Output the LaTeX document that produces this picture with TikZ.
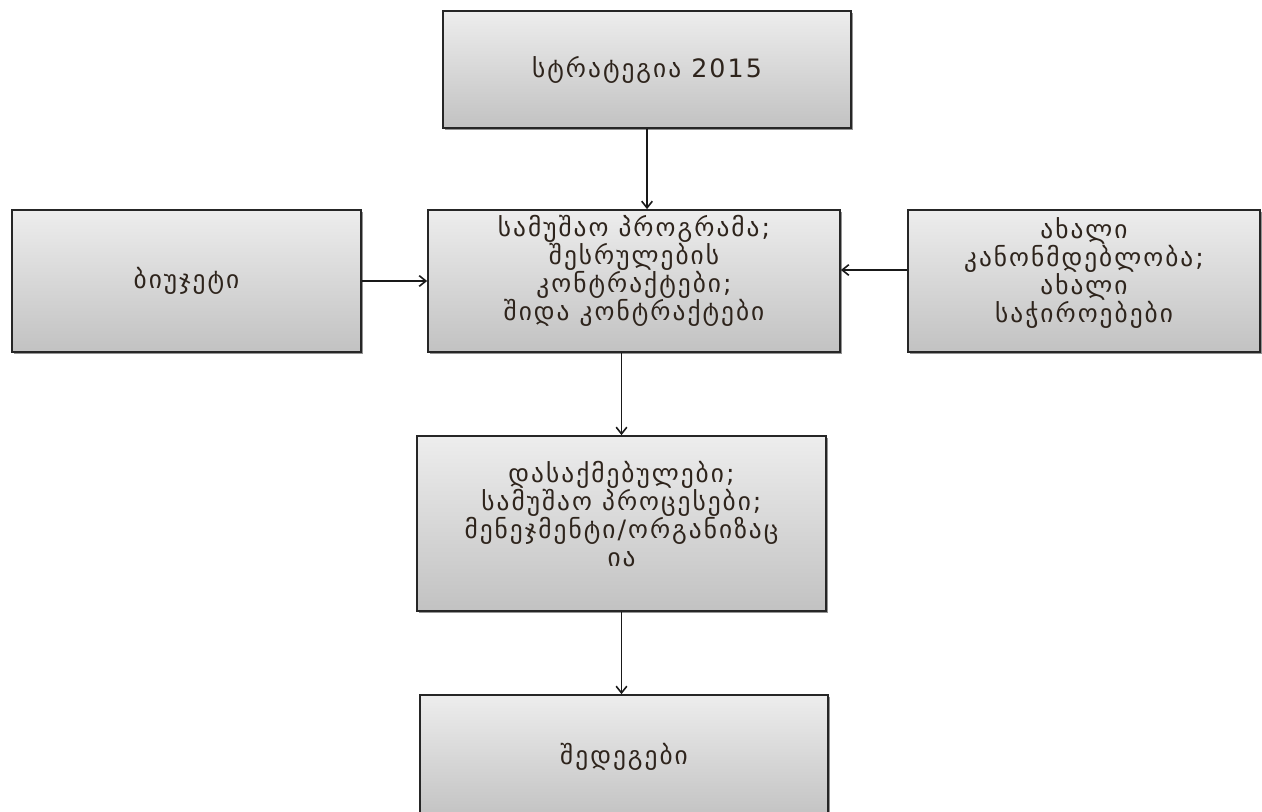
\documentclass[tikz,border=0pt]{standalone}
\usepackage{fontspec}
\newfontfamily\geofont[LetterSpace=8]{DejaVu Sans}
\usetikzlibrary{arrows.meta,shadows,calc}
\def\pxu{0.75pt}
\definecolor{txtcol}{HTML}{2E241C}
\definecolor{boxtop}{HTML}{EDEDED}
\definecolor{boxbot}{HTML}{C2C2C2}
\tikzset{
  geotext/.style={font=\geofont\fontsize{19}{21}\selectfont, text=txtcol, align=center},
  boxnode/.style={draw=black!85, line width=1.3pt, inner sep=0pt, align=center,
    top color=boxtop, bottom color=boxbot, geotext,
    drop shadow={shadow xshift=1.2pt, shadow yshift=-1.2pt, opacity=0.6, fill=black!70}},
  conn/.style={line width=1.4pt, draw=black!90, -{Straight Barb[length=5pt,width=8pt,line width=1.2pt]}}
}
\begin{document}
\begin{tikzpicture}[x=0.75pt, y=-0.75pt]
\useasboundingbox (0,0) rectangle (1262,812);
\clip (0,0) rectangle (1262,812);
\node[boxnode, minimum width=408*\pxu, minimum height=117*\pxu] (top) at (647,69.5) {სტრატეგია 2015};
\node[boxnode, minimum width=349*\pxu, minimum height=142*\pxu] (left) at (186.5,281) {ბიუჯეტი};
\node[boxnode, minimum width=412*\pxu, minimum height=142*\pxu] (mid) at (634,281) {};
\node[geotext] (midtxt) at (634,271) {სამუშაო პროგრამა;\\შესრულების\\კონტრაქტები;\\შიდა კონტრაქტები};
\node[boxnode, minimum width=352*\pxu, minimum height=142*\pxu] (right) at (1084,281) {};
\node[geotext] (righttxt) at (1084,273) {ახალი\\კანონმდებლობა;\\ახალი\\საჭიროებები};
\node[boxnode, minimum width=409*\pxu, minimum height=175*\pxu] (work) at (621.5,523.5) {};
\node[geotext] (worktxt) at (621.5,514) {დასაქმებულები;\\სამუშაო პროცესები;\\მენეჯმენტი/ორგანიზაც\\ია};
\node[boxnode, minimum width=408*\pxu, minimum height=124*\pxu] (res) at (624,757) {შედეგები};
\coordinate (rin) at ($(right.west)+(0,-11)$);
\draw[conn] (top.south) -- (top.south |- mid.north);
\draw[conn] (left.east) -- (left.east -| mid.west);
\draw[conn] (rin) -- (rin -| mid.east);
\draw[conn] (mid.south -| work.north) -- (work.north);
\draw[conn] (work.south) -- (work.south |- res.north);
\end{tikzpicture}
\end{document}
